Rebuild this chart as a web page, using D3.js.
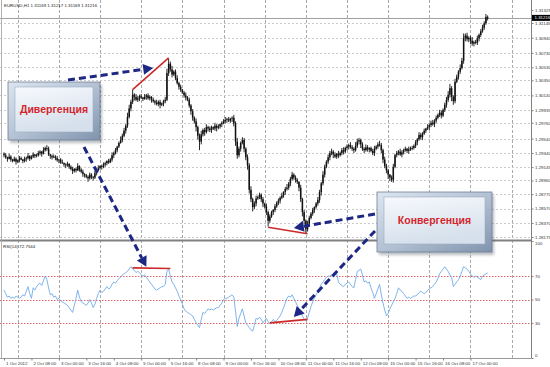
<!DOCTYPE html>
<html>
<head>
<meta charset="utf-8">
<script src="https://cdn.jsdelivr.net/npm/d3@7"></script>
<style>
  body { margin: 0; background: #fff; }
  svg { display: block; }
  text { font-family: "Liberation Sans", Arial, sans-serif; }
</style>
</head>
<body>
<svg id="chart" width="550" height="367"></svg>
<script>
// EURUSD H1, one bar per hour from 1 Oct 16:00. closes in pips above 1.2800
var firstOpen = 133;
var closes = [
  131,128,126,129,125,123,126,122,124,127, 125,123,126,127,130,126,129,132,130,131,
  134,136,133,138,141,140,132,130,128,129, 127,124,125,121,120,118,117,119,115,112,
  109,112,110,116,111,108,105,103,101,99,  104,101,100,106,110,113,116,115,118,120,
  123,121,125,131,134,138,143,148,152,158, 165,172,184,196,205,215,212,208,210,213,
  211,209,212,214,210,212,208,206,204,202, 205,201,203,206,208,245,258,250,243,247,
  238,231,226,222,218,214,211,208,200,192, 183,178,170,158,150,160,166,163,170,168,
  166,170,168,172,169,171,174,176,178,180, 181,179,182,183,175,150,131,140,148,152,
  140,128,117,83,70,59,64,71,73,76,        70,64,60,52,40,46,52,55,60,65,
  68,72,75,80,84,86,92,98,104,100,         97,94,86,70,52,40,28,36,44,50,
  55,59,64,69,80,92,104,115,122,128,       134,136,132,129,133,131,134,138,136,141,
  143,145,142,140,138,144,150,152,146,140, 138,142,139,141,137,134,140,143,146,145,
  138,125,116,110,104,100,97,115,131,134,  136,132,135,138,140,137,139,141,141,144,
  149,153,159,156,161,165,168,170,173,176, 174,179,183,187,190,186,194,201,208,215,
  224,212,206,233,240,247,252,262,294,297, 292,294,290,286,288,287,293,298,303,308,
  314,323,321
];
// wick length above / below the body, pips
var wickUp = [
  2,3,1,4,2,1,3,2,1,3, 2,1,3,2,4,1,2,3,1,2, 3,2,1,4,2,4,3,1,2,3, 2,3,1,2,4,1,2,3,1,2,
  3,1,2,4,1,2,3,1,2,2, 3,2,1,3,2,4,1,2,3,2, 1,3,2,4,2,3,1,2,5,3, 4,2,6,5,3,7,2,4,3,2,
  3,1,4,2,3,2,1,3,2,4, 2,3,1,2,4,6,7,3,5,2, 3,4,2,3,1,2,4,2,3,2, 3,2,4,2,3,5,2,3,4,2,
  3,2,1,4,2,3,1,2,3,4, 2,3,1,2,4,3,5,3,2,4, 3,2,4,3,5,2,3,4,2,3, 2,3,1,4,2,3,2,1,3,2,
  3,2,4,1,3,5,2,3,4,2, 3,2,1,4,2,3,2,4,3,2, 3,1,2,4,3,2,5,3,2,4, 3,4,2,3,1,4,2,3,4,2,
  3,2,4,3,2,5,4,3,2,3, 2,4,3,1,2,3,4,2,3,5, 3,2,4,3,2,1,3,4,2,3, 2,4,3,2,3,1,4,2,3,2,
  3,2,4,3,2,3,1,4,2,3, 4,2,3,2,4,3,2,3,4,5, 6,3,2,4,3,2,5,4,6,3, 4,2,3,5,2,3,4,2,3,4,
  3,4,2
];
var wickDn = [
  3,2,4,1,3,2,1,4,2,3, 1,3,2,4,2,3,1,2,3,2, 2,3,4,1,2,3,2,4,3,1, 3,2,4,2,1,3,4,2,3,2,
  4,2,3,1,3,2,4,3,2,5, 2,3,4,2,3,1,2,4,2,3, 3,2,1,3,4,2,3,2,1,3, 2,4,3,2,4,3,5,2,3,4,
  2,3,1,4,2,3,4,2,3,2, 3,5,2,4,3,2,4,3,4,2, 3,2,4,3,2,3,4,2,3,5, 4,3,6,5,12,4,3,5,2,4,
  3,4,2,3,5,2,3,4,2,3, 4,2,3,5,4,6,5,3,4,2, 5,4,6,5,4,6,3,4,2,3, 4,5,3,4,8,3,2,4,3,2,
  3,4,2,3,4,2,3,4,2,3, 4,3,5,4,6,5,5,3,4,2, 3,4,2,3,4,5,3,4,2,3, 4,3,5,2,3,4,2,3,4,2,
  3,4,2,3,4,2,3,4,5,3, 4,2,3,4,2,3,4,2,3,2, 4,5,3,4,6,5,3,4,2,3, 3,2,4,3,2,3,4,2,3,2,
  3,4,2,3,4,2,3,2,4,3, 2,4,3,2,3,4,2,3,4,3, 4,6,5,3,2,4,3,2,4,5, 3,4,5,3,4,2,3,4,3,2,
  3,2,3
];
var rsi = [
  58,55,52,53,51,52,51,53,52,51, 52,54,53,57,61,55,51,60,58,61, 63,64,62,66,70,67,60,54,55,52,
  53,50,51,49,48,47,46,45,43,41, 39,45,51,58,52,48,47,46,45,47, 50,47,43,46,51,55,58,56,57,59,
  61,59,60,63,65,64,66,68,69,71, 72,73,74,76,78,76,75,73,74,73, 71,70,71,69,67,65,63,61,59,58,
  59,60,61,61,63,74,76,70,65,63, 60,57,53,50,46,42,40,39,38,37, 36,33,30,28,26,33,39,38,40,42,
  41,42,41,42,43,43,45,47,50,51, 51,52,53,54,52,40,27,34,38,42, 36,30,28,26,24,23,28,34,33,35,
  33,30,32,34,31,29,31,33,31,32, 34,36,39,43,47,51,53,52,54,51, 48,45,42,39,36,33,32,34,39,44,
  48,51,54,57,60,63,65,67,69,70, 70,71,69,71,72,65,63,62,61,63, 64,65,63,61,60,67,74,75,76,71,
  65,66,64,65,60,56,51,55,59,63, 54,47,41,36,38,42,45,48,51,55, 60,58,57,55,53,51,52,51,52,53,
  53,54,56,57,56,55,56,58,59,60, 61,63,65,68,72,74,76,78,76,74, 71,69,61,63,65,67,70,74,78,77,
  76,74,72,70,69,70,69,68,67,70, 71,72,72.75
];
var priceTicks = [1.28175, 1.28370, 1.28570, 1.28770, 1.28960, 1.29145, 1.29340, 1.29540, 1.29760,
  1.29935, 1.30140, 1.30350, 1.30530, 1.30730, 1.30940, 1.31145, 1.31325];
var rsiTicks = [100, 70, 50, 30, 0];
var rsiLevels = [70, 50, 30];
var timeLabels = ["1 Oct 2012", "2 Oct 08:00", "3 Oct 00:00", "3 Oct 16:00", "4 Oct 08:00", "5 Oct 00:00",
  "5 Oct 16:00", "8 Oct 08:00", "9 Oct 00:00", "9 Oct 16:00", "10 Oct 08:00", "11 Oct 00:00",
  "11 Oct 16:00", "12 Oct 08:00", "15 Oct 00:00", "15 Oct 16:00", "16 Oct 08:00", "17 Oct 00:00"];
var header = "EURUSD,H1  1.31169 1.31217 1.31169 1.31216";
var bid = 1.31216;
var rsiTitle = "RSI(14) 72.7544";

// annotations, in bar / price / rsi units
var trendLines = [
  {panel: "price", a: [75, 1.30220], b: [96, 1.30660]},
  {panel: "price", a: [154, 1.28310], b: [177, 1.28220]},
  {panel: "rsi", a: [75, 77], b: [97, 76.5]},
  {panel: "rsi", a: [155, 30], b: [177, 33]}
];
var callouts = [
  {x: 8, y: 82, w: 92, h: 58, text: "Дивергенция",
   arrows: [{from: [68, 80], panel: "price", to: [87, 1.30520]},
            {from: [84, 147], panel: "rsi", to: [83, 78]}]},
  {x: 377, y: 192, w: 115, h: 60, text: "Конвергенция",
   arrows: [{from: [375, 214], panel: "price", to: [169, 1.28300]},
            {from: [375, 231], panel: "rsi", to: [169, 35]}]}
];

var svg = d3.select("#chart");
var plotR = 531;

var x = d3.scaleLinear().domain([0, 300]).range([4, 518.5]);
var yP = d3.scaleLinear().domain([1.28175, 1.31145]).range([237, 23]);
var yR = d3.scaleLinear().domain([0, 100]).range([358, 241]);
var toPrice = v => 1.28 + v / 10000;
var crisp = v => Math.round(v) + 0.5;

var bars = closes.map(function(c, i) {
  var o = i === 0 ? firstOpen : closes[i - 1];
  return {i: i, o: toPrice(o), c: toPrice(c),
          h: toPrice(Math.max(o, c) + wickUp[i]), l: toPrice(Math.min(o, c) - wickDn[i])};
});

var defs = svg.append("defs");
defs.append("clipPath").attr("id", "clipMain").append("rect")
  .attr("x", 0).attr("y", 0).attr("width", plotR).attr("height", 239.5);
defs.append("clipPath").attr("id", "clipRsi").append("rect")
  .attr("x", 0).attr("y", 241.5).attr("width", plotR).attr("height", 117);

var bevel = defs.append("linearGradient").attr("id", "bevel")
  .attr("x1", 0).attr("y1", 0).attr("x2", 1).attr("y2", 1);
bevel.append("stop").attr("offset", 0).attr("stop-color", "#dde6f0");
bevel.append("stop").attr("offset", 0.5).attr("stop-color", "#b4c2d4");
bevel.append("stop").attr("offset", 1).attr("stop-color", "#8094ad");
var face = defs.append("linearGradient").attr("id", "face")
  .attr("x1", 0).attr("y1", 0).attr("x2", 0.3).attr("y2", 1);
face.append("stop").attr("offset", 0).attr("stop-color", "#f7f9fc");
face.append("stop").attr("offset", 1).attr("stop-color", "#d5e0ec");
defs.append("filter").attr("id", "blur").append("feGaussianBlur").attr("stdDeviation", 1.5);

// grid
var dayBars = d3.range(8, 300, 24);
svg.append("g").selectAll("line").data(dayBars).join("line")
  .attr("x1", d => crisp(x(d))).attr("x2", d => crisp(x(d)))
  .attr("y1", 0).attr("y2", 358)
  .attr("stroke", "#aaaaaa").attr("stroke-width", 1).attr("stroke-dasharray", "3,2");

svg.append("g").selectAll("line").data(priceTicks.slice(0, -1)).join("line")
  .attr("x1", 0).attr("x2", plotR)
  .attr("y1", d => crisp(yP(d))).attr("y2", d => crisp(yP(d)))
  .attr("stroke", "#cacaca").attr("stroke-width", 1).attr("stroke-dasharray", "2,2");

svg.append("g").selectAll("line").data(rsiLevels).join("line")
  .attr("x1", 0).attr("x2", plotR)
  .attr("y1", d => crisp(yR(d))).attr("y2", d => crisp(yR(d)))
  .attr("stroke", "#e06464").attr("stroke-width", 1).attr("stroke-dasharray", "1.5,1.5");

// bid line
svg.append("line").attr("x1", 0).attr("x2", plotR)
  .attr("y1", crisp(yP(bid))).attr("y2", crisp(yP(bid)))
  .attr("stroke", "#a0a0a0").attr("stroke-width", 1);

// candles
var cg = svg.append("g").attr("clip-path", "url(#clipMain)");
cg.selectAll("line").data(bars).join("line")
  .attr("x1", d => x(d.i)).attr("x2", d => x(d.i))
  .attr("y1", d => yP(d.h)).attr("y2", d => yP(d.l))
  .attr("stroke", "#2a2a2a").attr("stroke-width", 1);
cg.selectAll("rect").data(bars).join("rect")
  .attr("x", d => x(d.i) - 0.75).attr("width", 1.5)
  .attr("y", d => Math.min(yP(d.o), yP(d.c)))
  .attr("height", d => Math.max(0.8, Math.abs(yP(d.o) - yP(d.c))))
  .attr("fill", "#111");

// rsi line
svg.append("path").attr("clip-path", "url(#clipRsi)")
  .datum(rsi)
  .attr("d", d3.line().x((d, i) => x(i)).y(d => yR(d)))
  .attr("fill", "none").attr("stroke", "#72abe8").attr("stroke-width", 0.9);

// frame
svg.append("rect").attr("x", 0).attr("y", 239.5).attr("width", plotR).attr("height", 2).attr("fill", "#808080");
svg.append("line").attr("x1", plotR + 0.5).attr("x2", plotR + 0.5).attr("y1", 0).attr("y2", 358.5)
  .attr("stroke", "#808080");
svg.append("line").attr("x1", 0).attr("x2", plotR).attr("y1", 358.5).attr("y2", 358.5)
  .attr("stroke", "#9a9a9a");
svg.append("line").attr("x1", 1.5).attr("x2", 1.5).attr("y1", 0).attr("y2", 358.5)
  .attr("stroke", "#b0b0b0");

// axes
function styleAxis(g) {
  g.select(".domain").remove();
  g.selectAll("line").attr("stroke", "#808080");
  g.selectAll("text").attr("font-size", "4.4px").attr("fill", "#333")
    .attr("font-family", "'Liberation Sans', Arial, sans-serif");
}
svg.append("g").attr("transform", "translate(" + (plotR + 0.5) + ",0)")
  .call(d3.axisRight(yP).tickValues(priceTicks).tickFormat(d3.format(".5f")).tickSize(2).tickPadding(1.5))
  .call(styleAxis);

svg.append("g").attr("transform", "translate(" + (plotR + 0.5) + ",0)")
  .call(d3.axisRight(yR).tickValues(rsiTicks).tickSize(2).tickPadding(1.5))
  .call(styleAxis)
  .call(g => g.selectAll(".tick text").attr("dy", d => d === 100 ? "0.9em" : d === 0 ? "-0.3em" : "0.32em"));

var labelBars = timeLabels.map((t, k) => k * 16);
svg.append("g").attr("transform", "translate(0,358.5)")
  .call(d3.axisBottom(x).tickValues(labelBars).tickFormat((d, k) => timeLabels[k]).tickSize(2).tickPadding(1))
  .call(styleAxis)
  .call(g => g.selectAll(".tick text").attr("text-anchor", "start").attr("dx", "1.5"));

// bid marker
svg.append("rect").attr("x", plotR + 1).attr("y", yP(bid) - 3).attr("width", 19).attr("height", 6).attr("fill", "#000");
svg.append("text").attr("x", plotR + 3.5).attr("y", yP(bid) + 1.6)
  .attr("font-size", "4.4px").attr("fill", "#fff").text(d3.format(".5f")(bid));

svg.append("text").attr("x", 4).attr("y", 6.5).attr("font-size", "4.4px").attr("fill", "#222").text(header);
svg.append("text").attr("x", 3).attr("y", 247.5).attr("font-size", "4.4px").attr("fill", "#222").text(rsiTitle);

// trend lines
function pt(panel, p) {
  return [x(p[0]), panel === "price" ? yP(p[1]) : yR(p[1])];
}
svg.append("g").selectAll("line").data(trendLines).join("line")
  .attr("x1", d => pt(d.panel, d.a)[0]).attr("y1", d => pt(d.panel, d.a)[1])
  .attr("x2", d => pt(d.panel, d.b)[0]).attr("y2", d => pt(d.panel, d.b)[1])
  .attr("stroke", "#cc2a2a").attr("stroke-width", 1.6);

// callouts
var navy = "#1d2784";
function drawArrow(g, from, to) {
  var dx = to[0] - from[0], dy = to[1] - from[1];
  var len = Math.hypot(dx, dy), ux = dx / len, uy = dy / len;
  var hl = 10, hw = 5.5;
  var bx = to[0] - ux * hl, by = to[1] - uy * hl;
  g.append("line").attr("x1", from[0]).attr("y1", from[1]).attr("x2", bx).attr("y2", by)
    .attr("stroke", navy).attr("stroke-width", 3).attr("stroke-dasharray", "7,4");
  g.append("path")
    .attr("d", "M" + to[0] + "," + to[1] + "L" + (bx - uy * hw) + "," + (by + ux * hw) +
               "L" + (bx + uy * hw) + "," + (by - ux * hw) + "Z")
    .attr("fill", navy);
}

callouts.forEach(function(c) {
  var g = svg.append("g");
  c.arrows.forEach(a => drawArrow(g, a.from, pt(a.panel, a.to)));
  g.append("rect").attr("x", c.x + 2).attr("y", c.y + 3).attr("width", c.w).attr("height", c.h)
    .attr("fill", "#3a4250").attr("opacity", 0.35).attr("filter", "url(#blur)");
  g.append("rect").attr("x", c.x).attr("y", c.y).attr("width", c.w).attr("height", c.h)
    .attr("fill", "url(#bevel)").attr("stroke", "#6f809a").attr("stroke-width", 0.8);
  g.append("rect").attr("x", c.x + 7).attr("y", c.y + 5).attr("width", c.w - 14).attr("height", c.h - 13)
    .attr("fill", "url(#face)").attr("stroke", "#9aabc2").attr("stroke-width", 0.6);
  g.append("text").attr("x", c.x + c.w / 2).attr("y", c.y + 5 + (c.h - 13) / 2 + 3.8)
    .attr("text-anchor", "middle").attr("font-size", "10.5px").attr("font-weight", "bold")
    .attr("fill", "#d2262c").text(c.text);
});
</script>
</body>
</html>
